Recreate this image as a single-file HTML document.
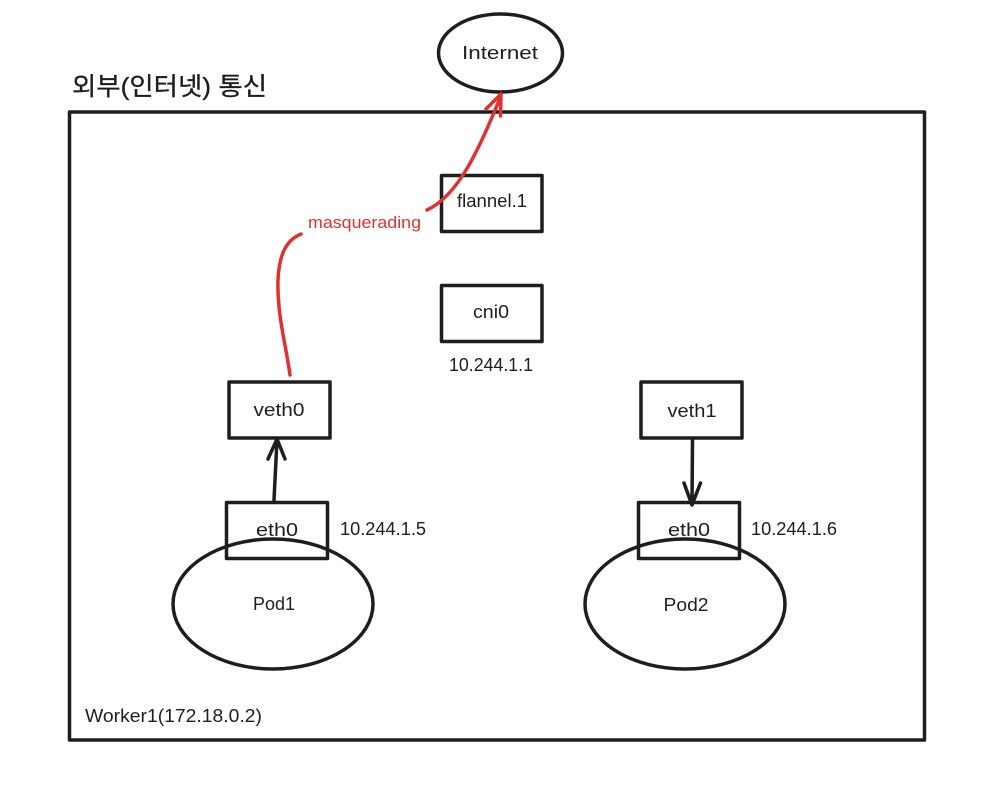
<!DOCTYPE html>
<html><head><meta charset="utf-8">
<style>
html,body{margin:0;padding:0;background:#fff;width:998px;height:786px;overflow:hidden}
svg{display:block}
text{font-family:"Liberation Sans","DejaVu Sans",sans-serif;font-size:18px;fill:#1e1e1e}
</style></head>
<body>
<svg width="998" height="786" viewBox="0 0 998 786" xmlns="http://www.w3.org/2000/svg">
<rect width="998" height="786" fill="#fff"/>
<g fill="none" stroke="#1e1e1e" stroke-width="3.5" stroke-linejoin="round" stroke-linecap="round">
<rect x="69.500" y="112" width="855" height="628"/>
<ellipse cx="500.500" cy="53" rx="62" ry="39"/>
<rect x="441.500" y="175.500" width="100.500" height="56"/>
<rect x="441.500" y="285.500" width="100.500" height="56"/>
<rect x="229" y="382" width="101" height="56"/>
<rect x="226.500" y="502.500" width="101" height="56"/>
<rect x="641" y="382" width="101" height="56"/>
<rect x="638.500" y="502.500" width="101" height="56"/>
<ellipse cx="273" cy="604" rx="100" ry="65"/>
<ellipse cx="685" cy="604" rx="100" ry="65"/>
<path d="M274 500 L277 440 M268 459 L277 439 L285 459"/>
<path d="M692.500 440 L692 504 M684 483 L692 505 L700.500 483"/>
</g>
<g fill="none" stroke="#e03131" stroke-width="3.500" stroke-linecap="round" stroke-linejoin="round">
<path d="M290 375 C286 345 277 315 278 280 C279 255 286 240 301 234"/>
<path d="M427 210 C455 197 475 160 500 98 M486 109 L501 94 L500.500 116"/>
</g>
<text x="500" y="59" text-anchor="middle" textLength="76" lengthAdjust="spacingAndGlyphs">Internet</text>
<text x="492" y="207" text-anchor="middle" textLength="70" lengthAdjust="spacingAndGlyphs">flannel.1</text>
<text x="491" y="318" text-anchor="middle" textLength="36" lengthAdjust="spacingAndGlyphs">cni0</text>
<text x="491" y="371" text-anchor="middle" textLength="84" lengthAdjust="spacingAndGlyphs">10.244.1.1</text>
<text x="279" y="416" text-anchor="middle" textLength="51" lengthAdjust="spacingAndGlyphs">veth0</text>
<text x="692" y="417" text-anchor="middle" textLength="49" lengthAdjust="spacingAndGlyphs">veth1</text>
<text x="277" y="536" text-anchor="middle" textLength="42" lengthAdjust="spacingAndGlyphs">eth0</text>
<text x="689" y="536" text-anchor="middle" textLength="42" lengthAdjust="spacingAndGlyphs">eth0</text>
<text x="340" y="535" textLength="86" lengthAdjust="spacingAndGlyphs">10.244.1.5</text>
<text x="751" y="535" textLength="86" lengthAdjust="spacingAndGlyphs">10.244.1.6</text>
<text x="274" y="610" text-anchor="middle" textLength="42" lengthAdjust="spacingAndGlyphs">Pod1</text>
<text x="686" y="611" text-anchor="middle" textLength="45" lengthAdjust="spacingAndGlyphs">Pod2</text>
<text x="85" y="722" textLength="177" lengthAdjust="spacingAndGlyphs">Worker1(172.18.0.2)</text>
<text x="308" y="228" textLength="113" lengthAdjust="spacingAndGlyphs" style="fill:#e03131;font-size:17px">masquerading</text>
<text x="72" y="95" textLength="195" lengthAdjust="spacingAndGlyphs" style='font-family:"Liberation Sans","Noto Sans CJK KR",sans-serif;font-size:25px;stroke:#1e1e1e;stroke-width:.3px'>외부(인터넷) 통신</text>
</svg>
</body></html>
